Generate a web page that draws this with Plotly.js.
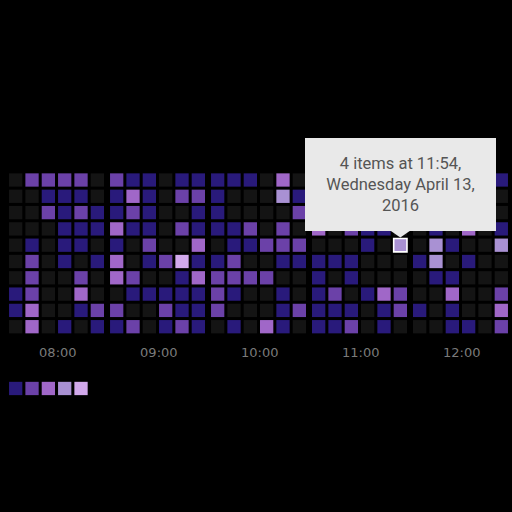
<!DOCTYPE html>
<html>
<head>
<meta charset="utf-8">
<script src="https://cdn.plot.ly/plotly-3.0.1.min.js"></script>
<style>
html,body{margin:0;padding:0;background:#000;}
#chart{width:512px;height:512px;}
</style>
</head>
<body>
<div id="chart"></div>
<script>
// ---- data ----
const hourLabels = ['08:00', '09:00', '10:00', '11:00', '12:00'];
const binsPerHour = 6; // 10-minute bins
// activity level per 10-minute bin (0 = none, 1..5 = legend levels), one array per day row
const row0 = [0,2,2,2,2,0, 2,1,1,0,1,1, 1,1,1,0,3,0, 1,0,2,1,1,0, 0,1,2,0,1,1];
const row1 = [0,0,1,1,1,0, 1,3,1,0,2,2, 1,0,0,0,4,1, 0,1,1,0,0,2, 1,0,0,1,0,0];
const row2 = [0,0,2,1,2,1, 1,2,1,0,0,1, 1,0,0,0,0,2, 1,0,0,1,2,0, 0,0,1,0,0,0];
const row3 = [0,0,0,1,1,1, 3,1,1,0,2,1, 1,1,2,0,2,0, 3,0,2,1,1,0, 0,1,0,3,0,1];
const row4 = [0,1,0,1,1,0, 1,0,2,0,0,3, 0,1,1,2,2,2, 0,0,0,1,0,4, 0,4,1,0,0,4];
const row5 = [0,2,0,1,0,1, 3,0,1,2,5,1, 1,2,0,0,1,1, 1,1,1,0,0,0, 1,4,0,1,0,0];
const row6 = [0,2,0,0,2,0, 3,2,0,0,1,3, 2,2,2,2,0,0, 1,0,1,0,0,0, 0,1,1,0,0,0];
const row7 = [1,2,0,0,3,0, 0,1,1,1,1,1, 2,1,0,0,1,0, 1,2,0,1,3,2, 0,0,3,0,0,2];
const row8 = [1,3,0,0,1,2, 2,0,0,2,1,1, 2,0,0,0,1,2, 1,1,1,0,1,2, 1,0,1,0,0,3];
const row9 = [0,3,0,1,0,1, 1,2,0,1,2,1, 0,1,0,3,1,0, 1,1,2,0,1,0, 0,0,1,1,0,2];
const legendLevels = [1, 2, 3, 4, 5];
const tooltipText = '4 items at 11:54,<br>Wednesday April 13,<br>2016';
const highlightRow = 4, highlightCol = 23;

// ---- styling ----
const levelColors = ['#141414', '#291a7b', '#6b41a8', '#a067c8', '#a991d3', '#d2a9ec'];
const GAP = 0.184; // extra space between hour groups, in column units

const rows = [row0, row1, row2, row3, row4, row5, row6, row7, row8, row9];
function colX(j) {
  const h = Math.floor(j / binsPerHour), b = j % binsPerHour;
  return h * (binsPerHour + GAP) + b;
}

const xs = [], ys = [], cs = [], lc = [], lw = [];
rows.forEach((r, ri) => {
  r.forEach((v, j) => {
    xs.push(colX(j));
    ys.push(ri);
    cs.push(levelColors[v]);
    const hl = (ri === highlightRow && j === highlightCol);
    lc.push(hl ? '#ffffff' : 'rgba(0,0,0,0)');
    lw.push(hl ? 1.6 : 0);
  });
});

const cells = {
  type: 'scatter', mode: 'markers', x: xs, y: ys,
  marker: {symbol: 'square', size: 13.3, color: cs, line: {color: lc, width: lw}},
  hoverinfo: 'skip', showlegend: false
};

const legendTrace = {
  type: 'scatter', mode: 'markers',
  x: legendLevels.map((l, i) => i),
  y: legendLevels.map(() => 12.79),
  marker: {symbol: 'square', size: 13.3, color: legendLevels.map(l => levelColors[l])},
  hoverinfo: 'skip', showlegend: false, cliponaxis: false
};

const tickVals = hourLabels.map((h, i) => i * (binsPerHour + GAP) + (binsPerHour - 1) / 2 + 0.08);
const hx = colX(highlightCol);

const layout = {
  width: 512, height: 512,
  margin: {l: 0, r: 0, t: 0, b: 0},
  paper_bgcolor: '#000', plot_bgcolor: '#000',
  showlegend: false, hovermode: false,
  xaxis: {
    range: [-0.961, 30.39], anchor: 'free', position: 0.330,
    tickvals: tickVals, ticktext: hourLabels, ticks: '',
    showline: false, showgrid: false, zeroline: false, automargin: false,
    tickfont: {family: 'DejaVu Sans', size: 13, color: '#7a7a7a'}
  },
  yaxis: {range: [20.368, -11.043], visible: false, showgrid: false, zeroline: false, automargin: false},
  shapes: [{
    type: 'path', xref: 'x', yref: 'y', layer: 'above',
    path: `M ${hx - 0.62},3.10 L ${hx + 0.62},3.10 L ${hx},3.52 Z`,
    fillcolor: '#e9e9e9', line: {width: 0}
  }],
  annotations: [{
    x: hx, y: highlightRow, xref: 'x', yref: 'y',
    xanchor: 'center', yanchor: 'bottom', yshift: 14,
    showarrow: false, text: tooltipText, align: 'center',
    width: 191, height: 93, bgcolor: '#e9e9e9', borderpad: 0, borderwidth: 0,
    font: {family: 'Roboto', size: 16.5, color: '#555555'}
  }]
};

Plotly.newPlot('chart', [cells, legendTrace], layout, {displayModeBar: false, staticPlot: true});
</script>
</body>
</html>
